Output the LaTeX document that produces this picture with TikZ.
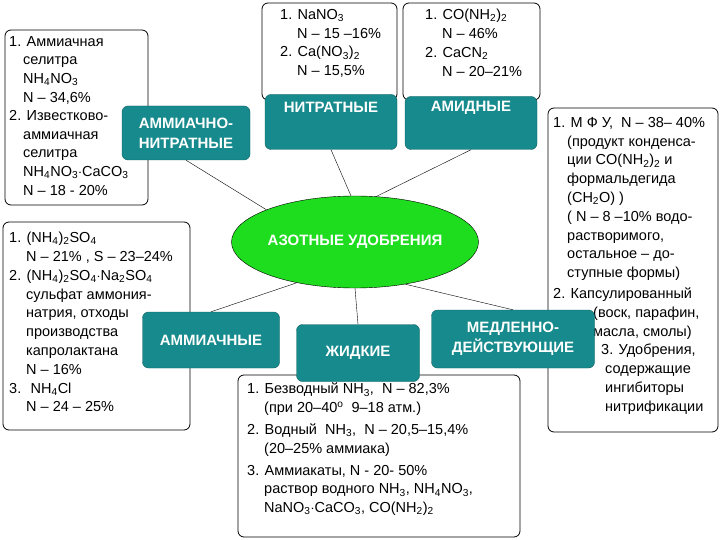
\documentclass[tikz,border=0pt]{standalone}
\usepackage{fontspec}
\setmainfont{Liberation Sans}
\usetikzlibrary{shapes.geometric}
\definecolor{tealbox}{RGB}{22,138,140}
\definecolor{greenell}{RGB}{30,220,30}
\newcommand{\sub}[1]{\textsubscript{#1}}
\begin{document}
\begin{tikzpicture}[x=1pt,y=-1pt,
  txtbox/.style={draw,thick,rounded corners=6pt},
  tx/.style={anchor=north west,align=left,inner sep=0pt,font=\fontsize{14.5}{18.8}\selectfont},
  teal/.style={fill=tealbox,draw=tealbox!70!black,rounded corners=6pt,text=white,font=\bfseries\fontsize{15}{20}\selectfont,align=center},
  conn/.style={thin}]
\fill[white] (0,0) rectangle (720,540);
\useasboundingbox (0,0) rectangle (720,540);
% text boxes
\draw[txtbox] (5,30) rectangle (148,205);
\node[tx] (t1) at (9,36) {1. Аммиачная\\\hspace{14pt}селитра\\\hspace{14pt}NH\sub{4}NO\sub{3}\\\hspace{14pt}N -- 34,6\%\\[-1pt]2. Известково-\\\hspace{14pt}аммиачная\\\hspace{14pt}селитра\\\hspace{14pt}NH\sub{4}NO\sub{3}$\cdot$CaCO\sub{3}\\\hspace{14pt}N -- 18 - 20\%};
\draw[txtbox] (262,3) rectangle (397,100);
\node[tx] (t2) at (280,9) {1. NaNO\sub{3}\\\hspace{17pt}N -- 15 --16\%\\2. Ca(NO\sub{3})\sub{2}\\\hspace{17pt}N -- 15,5\%};
\draw[txtbox] (403,3) rectangle (540,100);
\node[tx] (t3) at (425,9) {1. CO(NH\sub{2})\sub{2}\\\hspace{17pt}N -- 46\%\\2. CaCN\sub{2}\\\hspace{17pt}N -- 20--21\%};
\draw[txtbox] (548,108) rectangle (718,432);
\node[tx] (t4) at (553,117) {1. М Ф У, \ N -- 38-- 40\%\\\hspace{14pt}(продукт конденса-\\\hspace{14pt}ции CO(NH\sub{2})\sub{2} и\\\hspace{14pt}формальдегида\\\hspace{14pt}(CH\sub{2}O) )\\\hspace{14pt}( N -- 8 --10\% водо-\\\hspace{14pt}растворимого,\\\hspace{14pt}остальное -- до-\\\hspace{14pt}ступные формы)\\[2pt]2. Капсулированный\\\hspace{40pt}(воск, парафин,\\\hspace{40pt}масла, смолы)\\\hspace{48pt}3. Удобрения,\\\hspace{52pt}содержащие\\\hspace{52pt}ингибиторы\\\hspace{52pt}нитрификации};
\draw[txtbox] (3,222) rectangle (190,430);
\node[tx] (t5) at (9,232) {1. (NH\sub{4})\sub{2}SO\sub{4}\\\hspace{17pt}N -- 21\% , S -- 23--24\%\\2. (NH\sub{4})\sub{2}SO\sub{4}$\cdot$Na\sub{2}SO\sub{4}\\\hspace{17pt}сульфат аммония-\\\hspace{17pt}натрия, отходы\\\hspace{17pt}производства\\\hspace{17pt}капролактана\\\hspace{17pt}N -- 16\%\\3. \ NH\sub{4}Cl\\\hspace{17pt}N -- 24 -- 25\%};
\draw[txtbox] (238,375) rectangle (520,537);
\node[tx] (t6) at (247,383) {1. Безводный NH\sub{3}, \ N -- 82,3\%\\\hspace{17pt}(при 20--40\textsuperscript{o} \ 9--18 атм.)\\[3pt]2. Водный \ NH\sub{3}, \ N -- 20,5--15,4\%\\\hspace{17pt}(20--25\% аммиака)\\[3pt]3. Аммиакаты, N - 20- 50\%\\\hspace{17pt}раствор водного NH\sub{3}, NH\sub{4}NO\sub{3},\\\hspace{17pt}NaNO\sub{3}$\cdot$CaCO\sub{3}, CO(NH\sub{2})\sub{2}};
% ellipse
\node[ellipse,fill=greenell,draw=black,minimum width=245pt,minimum height=92pt,inner sep=0pt,text=white,font=\bfseries\fontsize{15}{17}\selectfont] (c) at (355,242) {АЗОТНЫЕ УДОБРЕНИЯ};
% teal
\node[teal,minimum width=128pt,minimum height=54pt] (a) at (186,133) {АММИАЧНО-\\НИТРАТНЫЕ};
\node[teal,minimum width=132pt,minimum height=55pt] (b) at (331,122) {НИТРАТНЫЕ\\[10pt]};
\node[teal,minimum width=132pt,minimum height=53pt] (d) at (471,123) {АМИДНЫЕ\\[14pt]};
\node[teal,minimum width=137pt,minimum height=56pt] (e) at (211,340) {АММИАЧНЫЕ};
\node[teal,minimum width=123pt,minimum height=57pt] (f) at (358,353) {ЖИДКИЕ};
\node[teal,minimum width=163pt,minimum height=58pt] (g) at (513,339) {МЕДЛЕННО-\\ДЕЙСТВУЮЩИЕ};
% connectors
\draw[conn] (a.south) -- (c.160);
\draw[conn] (b.south) -- (c.95);
\draw[conn] (d.south) -- (c.65);
\draw[conn] (e.north) -- (c.215);
\draw[conn] (f.north) -- (c.270);
\draw[conn] (g.north) -- (c.320);
\end{tikzpicture}
\end{document}
